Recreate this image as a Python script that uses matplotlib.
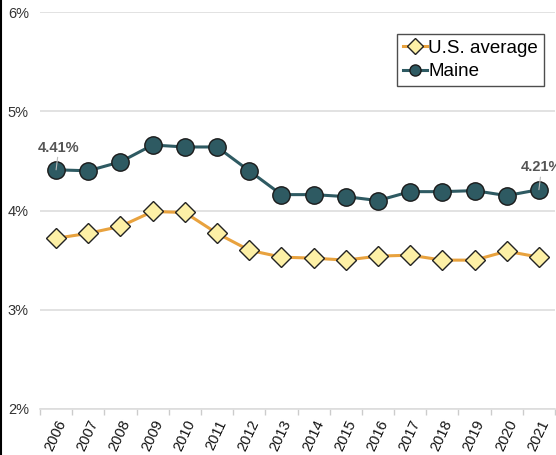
import matplotlib
matplotlib.use("Agg")
from matplotlib import pyplot as plt
from matplotlib.ticker import FuncFormatter, FixedLocator

plt.rcParams['font.family'] = ['Liberation Sans', 'DejaVu Sans']

years = [str(y) for y in range(2006, 2022)]
us_avg = [3.72, 3.77, 3.84, 3.99, 3.98, 3.77, 3.60, 3.53, 3.52, 3.50,
          3.54, 3.55, 3.50, 3.50, 3.59, 3.53]
maine = [4.41, 4.40, 4.49, 4.66, 4.64, 4.64, 4.40, 4.16, 4.16, 4.14,
         4.10, 4.19, 4.19, 4.20, 4.15, 4.21]

fig = plt.figure(figsize=(5.56, 4.55), dpi=100)
ax = fig.add_axes([40 / 556, 46 / 455, 515 / 556, 397 / 455])

x = list(range(len(years)))

ax.plot(x, us_avg, color='#e8a23e', linewidth=2.2, marker='D', markersize=10,
        markerfacecolor='#fdf0a6', markeredgecolor='#222222', markeredgewidth=1,
        label='U.S. average', zorder=3)
ax.plot(x, maine, color='#2e5a62', linewidth=2.2, marker='o', markersize=12.5,
        markerfacecolor='#2e5a62', markeredgecolor='#1a1a1a', markeredgewidth=1,
        label='Maine', zorder=4)

# labels on the first and last Maine points
for i in (0, len(x) - 1):
    ax.annotate(f"{maine[i]:.2f}%", xy=(x[i], maine[i]), xytext=(2, 11),
                textcoords='offset points', ha='center', va='bottom',
                fontsize=10.5, fontweight='bold', color='#555555',
                arrowprops=dict(arrowstyle='-', color='#bbbbbb', lw=0.8,
                                shrinkA=0, shrinkB=0),
                zorder=5, annotation_clip=False)

ax.set_xlim(-0.5, len(x) - 0.5)
ax.set_ylim(2, 6)
ax.set_yticks([2, 3, 4, 5, 6])
ax.yaxis.set_major_formatter(FuncFormatter(lambda v, p: f"{v:.0f}%"))
ax.grid(axis='y', color='#dddddd', linewidth=1.2)
ax.set_axisbelow(True)

ax.set_xticks(x)
ax.set_xticklabels(years, rotation=65, ha='right', va='top',
                   rotation_mode='anchor')
ax.xaxis.set_minor_locator(FixedLocator([i - 0.5 for i in range(len(x) + 1)]))
ax.tick_params(axis='x', which='major', length=0, pad=6, labelsize=10.5,
               labelcolor='#111111')
ax.tick_params(axis='x', which='minor', length=4, color='#cccccc', width=1)
ax.tick_params(axis='y', length=0, pad=8, labelsize=10.5, labelcolor='#333333')

for s in ('top', 'right', 'left'):
    ax.spines[s].set_visible(False)
ax.spines['bottom'].set_color('#dddddd')
ax.spines['bottom'].set_linewidth(1.2)

leg = ax.legend(loc='upper right', bbox_to_anchor=(0.978, 0.945), fontsize=13.5,
                frameon=True, fancybox=False, handlelength=1.3,
                handletextpad=0.05, borderpad=0.3, labelspacing=0.35,
                borderaxespad=0)
leg.get_frame().set_edgecolor('#222222')
leg.get_frame().set_linewidth(1)
for h in leg.legend_handles:
    h.set_markersize(8)

fig.add_artist(plt.Line2D([0.0015, 0.0015], [0, 1], color='black',
                          linewidth=1.5, transform=fig.transFigure))

fig.savefig('out.png', dpi=100)
